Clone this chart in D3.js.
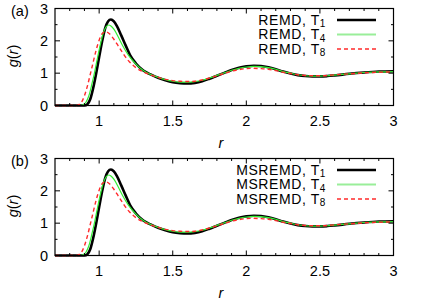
<!DOCTYPE html>
<html>
<head>
<meta charset="utf-8">
<script src="https://cdn.jsdelivr.net/npm/d3@7"></script>
<style>
  body { margin: 0; background: #fff; }
  svg { font-family: "Liberation Sans", Arial, sans-serif; }
</style>
</head>
<body>
<svg id="chart" width="428" height="300"></svg>
<script>
// radial distances and g(r) curves
const rT1 = [0.7, 0.88, 0.9, 0.92, 0.94, 0.96, 0.98, 1.0, 1.02, 1.04, 1.06, 1.08, 1.1, 1.12, 1.15, 1.18, 1.21, 1.25, 1.3, 1.36, 1.4, 1.45, 1.5, 1.55, 1.6, 1.65, 1.7, 1.75, 1.8, 1.85, 1.9, 1.95, 2.0, 2.05, 2.1, 2.15, 2.2, 2.25, 2.3, 2.35, 2.4, 2.45, 2.5, 2.55, 2.6, 2.7, 2.8, 2.9, 3.0];
const gT1 = [0, 0, 0.0, 0.04, 0.2, 0.55, 1.0, 1.5, 1.98, 2.38, 2.6, 2.66, 2.6, 2.46, 2.17, 1.86, 1.56, 1.3, 1.08, 0.94, 0.86, 0.78, 0.72, 0.69, 0.68, 0.7, 0.75, 0.83, 0.92, 1.01, 1.1, 1.17, 1.21, 1.23, 1.22, 1.18, 1.12, 1.05, 0.99, 0.94, 0.91, 0.9, 0.9, 0.91, 0.93, 0.98, 1.02, 1.05, 1.06];

const rT4 = [0.7, 0.87, 0.89, 0.91, 0.93, 0.95, 0.97, 0.99, 1.01, 1.03, 1.05, 1.065, 1.08, 1.1, 1.13, 1.16, 1.2, 1.25, 1.3, 1.36, 1.4, 1.45, 1.5, 1.55, 1.6, 1.65, 1.7, 1.75, 1.8, 1.85, 1.9, 1.95, 2.0, 2.05, 2.1, 2.15, 2.2, 2.25, 2.3, 2.35, 2.4, 2.45, 2.5, 2.55, 2.6, 2.7, 2.8, 2.9, 3.0];
const gT4 = [0, 0, 0.02, 0.1, 0.3, 0.65, 1.05, 1.5, 1.92, 2.27, 2.45, 2.49, 2.46, 2.36, 2.12, 1.85, 1.55, 1.28, 1.08, 0.94, 0.87, 0.8, 0.75, 0.72, 0.72, 0.74, 0.78, 0.85, 0.93, 1.01, 1.09, 1.15, 1.19, 1.21, 1.2, 1.17, 1.12, 1.05, 1.0, 0.95, 0.92, 0.91, 0.91, 0.92, 0.94, 0.98, 1.02, 1.04, 1.05];

const rT8 = [0.7, 0.84, 0.86, 0.88, 0.9, 0.92, 0.94, 0.96, 0.98, 1.0, 1.02, 1.045, 1.07, 1.1, 1.13, 1.17, 1.2, 1.25, 1.32, 1.36, 1.4, 1.45, 1.5, 1.55, 1.6, 1.65, 1.7, 1.75, 1.8, 1.85, 1.9, 1.95, 2.0, 2.05, 2.1, 2.15, 2.2, 2.25, 2.3, 2.35, 2.4, 2.45, 2.5, 2.55, 2.6, 2.7, 2.8, 2.9, 3.0];
const gT8 = [0, 0, 0.02, 0.1, 0.3, 0.6, 0.97, 1.35, 1.72, 2.02, 2.22, 2.28, 2.22, 2.05, 1.84, 1.56, 1.38, 1.17, 1.0, 0.93, 0.87, 0.81, 0.77, 0.75, 0.74, 0.75, 0.79, 0.85, 0.92, 0.99, 1.06, 1.11, 1.14, 1.15, 1.14, 1.12, 1.08, 1.03, 0.99, 0.95, 0.93, 0.92, 0.92, 0.93, 0.95, 0.98, 1.01, 1.03, 1.04];

const panelLabels = ["(a)", "(b)"];
const methodNames = ["REMD", "MSREMD"];
const tempSubs = ["1", "4", "8"];
const xTicks = [1, 1.5, 2, 2.5, 3];
const yTicks = [0, 1, 2, 3];

const seriesStyle = [
  { r: rT1, g: gT1, color: "#000000", width: 2.6, dash: null },
  { r: rT4, g: gT4, color: "#33ee33", width: 1.2, dash: null },
  { r: rT8, g: gT8, color: "#ff2a2a", width: 1.4, dash: "4,3" }
];

const svg = d3.select("#chart");
const left = 55, right = 393.5, top0 = 8.5, plotH = 97, panelStep = 150;

const x = d3.scaleLinear().domain([0.7, 3]).range([left, right]);

panelLabels.forEach((lab, p) => {
  const top = top0 + p * panelStep;
  const y = d3.scaleLinear().domain([0, 3]).range([top + plotH, top]);
  const g = svg.append("g");

  // curves
  const line = d3.line().x(d => x(d[0])).y(d => y(d[1])).curve(d3.curveMonotoneX);
  seriesStyle.forEach(s => {
    const pts = s.r.map((rv, i) => [rv, s.g[i]]);
    g.append("path")
      .attr("d", line(pts))
      .attr("fill", "none")
      .attr("stroke", s.color)
      .attr("stroke-width", s.width)
      .attr("stroke-dasharray", s.dash);
  });

  // axes with inward ticks, mirrored
  const minorX = d3.range(0.8, 3.001, 0.1).filter(v => Math.abs(v * 2 - Math.round(v * 2)) > 0.01);
  const minorY = [0.5, 1.5, 2.5];
  const bottom = top + plotH;

  const ax = g.append("g").attr("stroke", "#000").attr("stroke-width", 1);
  xTicks.forEach(v => {
    ax.append("line").attr("x1", x(v)).attr("x2", x(v)).attr("y1", bottom).attr("y2", bottom - 5);
    ax.append("line").attr("x1", x(v)).attr("x2", x(v)).attr("y1", top).attr("y2", top + 5);
  });
  minorX.forEach(v => {
    ax.append("line").attr("x1", x(v)).attr("x2", x(v)).attr("y1", bottom).attr("y2", bottom - 2.5);
    ax.append("line").attr("x1", x(v)).attr("x2", x(v)).attr("y1", top).attr("y2", top + 2.5);
  });
  yTicks.forEach(v => {
    ax.append("line").attr("x1", left).attr("x2", left + 5).attr("y1", y(v)).attr("y2", y(v));
    ax.append("line").attr("x1", right).attr("x2", right - 5).attr("y1", y(v)).attr("y2", y(v));
  });
  minorY.forEach(v => {
    ax.append("line").attr("x1", left).attr("x2", left + 2.5).attr("y1", y(v)).attr("y2", y(v));
    ax.append("line").attr("x1", right).attr("x2", right - 2.5).attr("y1", y(v)).attr("y2", y(v));
  });
  g.append("rect")
    .attr("x", left).attr("y", top).attr("width", right - left).attr("height", plotH)
    .attr("fill", "none").attr("stroke", "#000").attr("stroke-width", 1.2);

  // tick labels
  g.selectAll(".xt").data(xTicks).enter().append("text")
    .attr("x", d => x(d)).attr("y", bottom + 20)
    .attr("text-anchor", "middle").attr("font-size", 14.5)
    .text(d => d);
  g.selectAll(".yt").data(yTicks).enter().append("text")
    .attr("x", left - 7).attr("y", d => y(d) + 5)
    .attr("text-anchor", "end").attr("font-size", 14.5)
    .text(d => d);

  // axis titles
  g.append("text")
    .attr("x", 221).attr("y", bottom + 42)
    .attr("text-anchor", "middle").attr("font-size", 14.5).attr("font-style", "italic")
    .text("r");
  const yl = g.append("text")
    .attr("transform", `translate(18,${top + plotH / 2 - 1}) rotate(-90)`)
    .attr("text-anchor", "middle").attr("font-size", 14.5);
  yl.append("tspan").attr("font-style", "italic").text("g");
  yl.append("tspan").text("(");
  yl.append("tspan").attr("font-style", "italic").text("r");
  yl.append("tspan").text(")");

  // panel label
  g.append("text").attr("x", 11).attr("y", top + 7).attr("font-size", 14.5).text(lab);

  // legend
  tempSubs.forEach((t, i) => {
    const ly = top + 11.5 + i * 14.5;
    const txt = g.append("text")
      .attr("x", 326).attr("y", ly + 4.5)
      .attr("text-anchor", "end").attr("font-size", 14)
      .attr("letter-spacing", 0.6);
    txt.append("tspan").text(methodNames[p] + ", T");
    txt.append("tspan").attr("font-size", 10).attr("dy", 2.5).text(t);
    const s = seriesStyle[i];
    g.append("line")
      .attr("x1", 337).attr("x2", 376).attr("y1", ly).attr("y2", ly)
      .attr("stroke", i === 1 ? "#99ee99" : s.color)
      .attr("stroke-width", i === 1 ? 2 : s.width)
      .attr("stroke-dasharray", s.dash);
  });
});
</script>
</body>
</html>
